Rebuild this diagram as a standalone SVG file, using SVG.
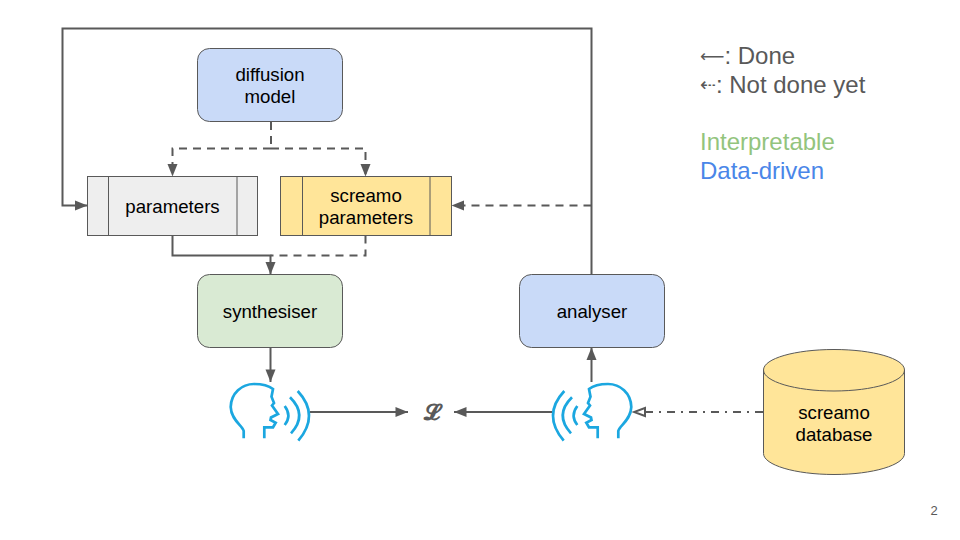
<svg xmlns="http://www.w3.org/2000/svg" width="960" height="540" viewBox="0 0 960 540">
<style>
text{font-family:"Liberation Sans",Arial,sans-serif;text-anchor:middle;fill:#000;font-size:18.67px}
.n{stroke:#595959;stroke-width:1}
.blue{fill:#c9daf8}.green{fill:#d9ead3}.grey{fill:#eeeeee}.yellow{fill:#ffe599}
.c{fill:none;stroke:#595959;stroke-width:2}
.d{stroke-dasharray:8 6}
.dd{stroke-dasharray:8 6 2 6}
.leg{font-size:24px;text-anchor:start;fill:#595959}
.ic{fill:none;stroke:#1ba7e0;stroke-width:2.700}
.arw{font-family:"DejaVu Sans",sans-serif}
</style>
<defs>
<marker id="a" markerUnits="userSpaceOnUse" markerWidth="14" markerHeight="12" refX="13" refY="6" orient="auto"><path d="M0.500 1L13 6L0.500 11Z" fill="#595959"/></marker>
<marker id="h" markerUnits="userSpaceOnUse" markerWidth="14" markerHeight="12" refX="13" refY="6" orient="auto"><path d="M1 2L12 6L1 10Z" fill="#fff" stroke="#595959" stroke-width="2"/></marker>
<g id="talk">
<path class="ic" d="M243.700 438.300V431C243 426 231 420 230.700 407C231 393 242 384 254 384C262 384 268 385 273 389L271.500 396.700L274 403L272 405.500L278 414L271 417.500L270.500 420L275.700 422.700L273 427.300H264.300V438.300"/>
<path class="ic" d="M284.700 406Q292 415.700 284.700 425M290 397.300Q308 415 291 433.300M297.700 391Q320 415 298.300 440.700"/>
</g>
</defs>
<rect width="960" height="540" fill="#fff"/>
<g id="connectors">
<path class="c" marker-end="url(#a)" d="M591.500 274.500V28.500H62.500V205.500H87.500"/>
<path class="c d" marker-end="url(#a)" d="M591.500 205.500H451.500"/>
<path class="c d" d="M271 122V148.500"/>
<path class="c d" marker-end="url(#a)" d="M271 148.500H172.500V176.500"/>
<path class="c d" marker-end="url(#a)" d="M271 148.500H365.500V176.500"/>
<path class="c" marker-end="url(#a)" d="M172.500 235.500V255.500H270.500V274.500"/>
<path class="c d" d="M365.500 235.500V255.500H270.500"/>
<path class="c" marker-end="url(#a)" d="M270.500 347.500V382"/>
<path class="c" marker-end="url(#a)" d="M591.500 382V347.500"/>
<path class="c" marker-end="url(#a)" d="M310 412H408"/>
<path class="c" marker-end="url(#a)" d="M552 412H454"/>
<path class="c dd" marker-end="url(#h)" d="M763 412H633"/>
</g>
<g id="diffusion"><rect class="n blue" x="197.500" y="48.500" width="145" height="73" rx="12"/><text x="270" y="81">diffusion</text><text x="270" y="103">model</text></g>
<g id="parameters"><rect class="n grey" x="87.500" y="176.500" width="170" height="59"/><path class="n" d="M108.500 176.500V235.500M237 176.500V235.500"/><text x="172.500" y="213">parameters</text></g>
<g id="screamo-parameters"><rect class="n yellow" x="280.500" y="176.500" width="171" height="59"/><path class="n" d="M302.500 176.500V235.500M430 176.500V235.500"/><text x="366" y="202">screamo</text><text x="366" y="224">parameters</text></g>
<g id="synthesiser"><rect class="n green" x="197.500" y="274.500" width="145" height="73" rx="12"/><text x="270" y="318">synthesiser</text></g>
<g id="analyser"><rect class="n blue" x="519.500" y="274.500" width="145" height="73" rx="12"/><text x="592" y="318">analyser</text></g>
<g id="speaker-left"><use href="#talk"/></g>
<g id="speaker-right"><use href="#talk" transform="matrix(-1 0 0 1 862 0)"/></g>
<g id="loss"><text x="431.500" y="420" style="font-family:'DejaVu Serif','DejaVu Sans',serif;font-weight:bold;font-size:22px;fill:#595959">𝓛</text></g>
<g id="database"><path class="n yellow" d="M763.500 370V453.500C763.500 465 795 474.500 834 474.500S904.500 465 904.500 453.500V370C904.500 358.500 873 349.500 834 349.500S763.500 358.500 763.500 370Z"/><path class="n" fill="none" d="M763.500 370C763.500 381.500 795 391 834 391S904.500 381.500 904.500 370"/><text x="834" y="419">screamo</text><text x="834" y="441">database</text></g>
<g id="legend">
<text class="leg" x="700" y="64"><tspan class="arw" style="font-size:17px" dy="-2">⟵</tspan><tspan dy="2">: Done</tspan></text>
<text class="leg" x="700" y="93"><tspan class="arw" style="font-size:19px" dy="-2">⇠</tspan><tspan dy="2">: Not done yet</tspan></text>
<text class="leg" x="700" y="150" style="fill:#93c47d">Interpretable</text>
<text class="leg" x="700" y="179" style="fill:#4a86e8">Data-driven</text>
</g>
<text x="934" y="515" style="font-size:13px;fill:#595959">2</text>
</svg>
